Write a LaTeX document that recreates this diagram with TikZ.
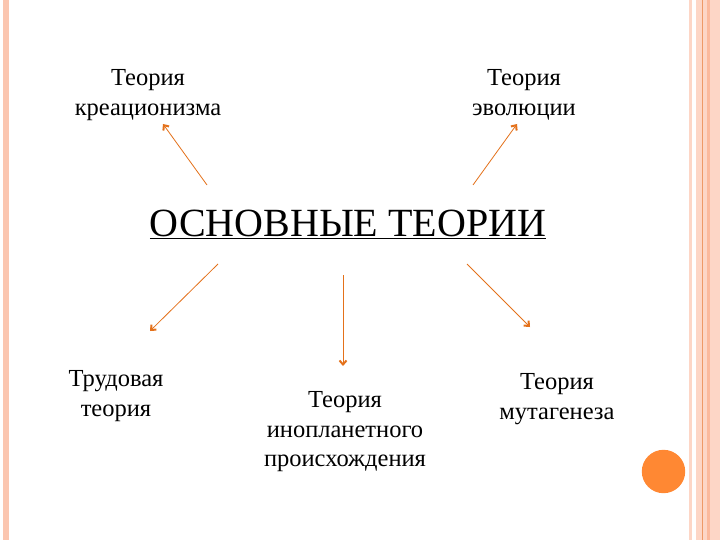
\documentclass[tikz,border=0pt]{standalone}
\usepackage{fontspec}
\setmainfont{Liberation Serif}
\usetikzlibrary{arrows.meta}
\definecolor{stripeA}{HTML}{FBC6B0}
\definecolor{stripeB}{HTML}{FDD6C6}
\definecolor{stripeC}{HTML}{FBB99C}
\definecolor{stripeLine}{HTML}{EE9966}
\definecolor{dotorange}{HTML}{FF8833}
\definecolor{arroworange}{HTML}{E4711A}
\tikzset{
  lbl/.style={align=center, font=\fontsize{24.5}{29.5}\selectfont, inner sep=0pt},
  conn/.style={draw=arroworange, line width=0.8pt, -{Straight Barb[length=4pt,width=7pt,line width=2pt]}},
}
\begin{document}
\begin{tikzpicture}[x=1pt,y=-1pt]
\useasboundingbox (0,0) rectangle (720,540);
\fill[white] (0,0) rectangle (720,540);
% left stripe
\fill[stripeA] (3,0) rectangle (9,540);
% right stripes
\fill[stripeB] (689,0) rectangle (692,540);
\fill[stripeB] (696,0) rectangle (702,540);
\fill[stripeLine] (702,0) rectangle (703,540);
\fill[stripeB] (703,0) rectangle (707,540);
\fill[stripeC] (707,0) rectangle (710,540);
\fill[stripeB] (710,0) rectangle (720,540);
% dot
\fill[dotorange] (663.5,471.5) circle (21.7);
% title
\node[inner sep=0pt, font=\fontsize{40}{44}\selectfont] (title) at (348,224) {\underline{ОСНОВНЫЕ ТЕОРИИ}};
% labels
\node[lbl] (kre) at (148,95) {Теория\\креационизма};
\node[lbl] (evo) at (524,95) {Теория\\эволюции};
\node[lbl] (tru) at (116,396) {Трудовая\\теория};
\node[lbl] (ino) at (345,432) {Теория\\инопланетного\\происхождения};
\node[lbl] (mut) at (557,399) {Теория\\мутагенеза};
% connector end points
\coordinate (a1s) at (207,185); \coordinate (a1e) at (163,124);
\coordinate (a2s) at (473,185); \coordinate (a2e) at (517,124);
\coordinate (a3s) at (218,264); \coordinate (a3e) at (150,331);
\coordinate (a4s) at (343,275); \coordinate (a4e) at (343,366);
\coordinate (a5s) at (467,264); \coordinate (a5e) at (530,327);
\draw[conn] (a1s) -- (a1e);
\draw[conn] (a2s) -- (a2e);
\draw[conn] (a3s) -- (a3e);
\draw[conn] (a4s) -- (a4e);
\draw[conn] (a5s) -- (a5e);
\end{tikzpicture}
\end{document}
